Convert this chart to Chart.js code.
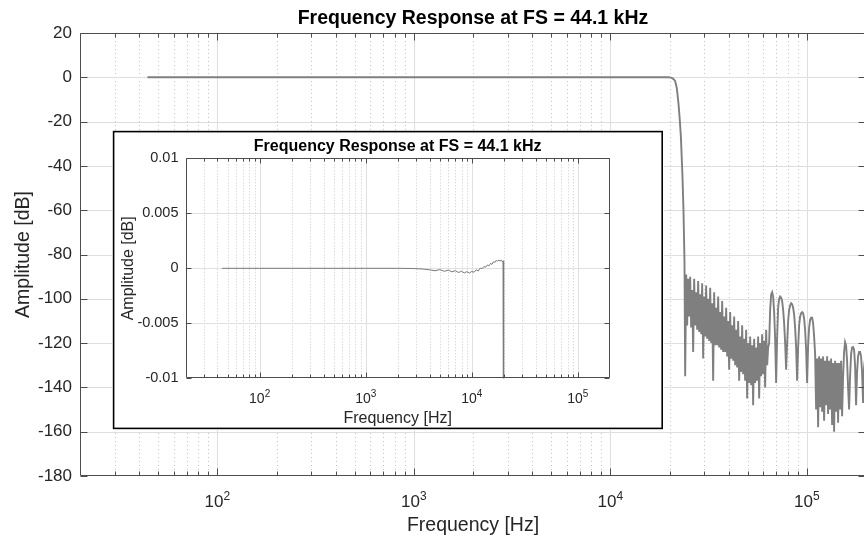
<!DOCTYPE html>
<html><head><meta charset="utf-8">
<script src="https://cdn.jsdelivr.net/npm/chart.js@4"></script>
<style>
html,body{margin:0;padding:0;overflow:hidden;background:#fff;width:864px;height:542px}
#wrap{position:relative;width:870px;height:542px}
#main{position:absolute;left:0;top:0}
#inset{position:absolute;left:112px;top:130px}
</style></head><body>
<div id="wrap"><canvas id="main" width="870" height="542"></canvas><canvas id="inset" width="552" height="300"></canvas></div>
<script>
// ---- data ----
const titleText = 'Frequency Response at FS = 44.1 kHz';
const xAxisLabel = 'Frequency [Hz]';
const yAxisLabel = 'Amplitude [dB]';

// passband (Hz, dB)
const freqPass = [44.1,60,100,200,500,1000,2000,2800,3400,4000,4500,5000,5500,6000,6500,7000,7500,8000,8500,9000,9500,10000,10500,11000,11500,12000,12500,13000,13500,14000,14500,15000,15500,16000,16500,17000,17500,18000,18500,19000,19400,19700,19900];
const ampPass = [0,0,0,0,0,0,0,-0.00002,-0.00006,-0.00014,-0.00022,-0.00012,-0.00027,-0.00017,-0.00032,-0.00022,-0.00038,-0.00027,-0.00042,-0.00030,-0.00044,-0.00028,-0.00036,-0.00014,-0.00024,0.00002,-0.00004,0.00016,0.00010,0.00030,0.00022,0.00044,0.00036,0.00060,0.00054,0.00072,0.00064,0.00076,0.00066,0.00074,0.00060,0.00068,0.00045];

// transition band
const freqTrans = [20050,20300,20640,21000,21380,21800,22230,22550,22860,23290,23560,23840,24030];
const ampTrans = [-0.03,-0.12,-0.4,-0.9,-1.8,-5,-12,-19,-27,-45,-60,-83,-135];

// stopband, first noisy region
const freqStop1 = [24320,24600,24890,25180,25480,25780,26090,26390,26700,27020,27340,27660,27980,28310,28650,28990,29330,29670,30020,30370,30730,31090,31460,31830,32210,32590,32970,33360,33750,34150,34550,34960,35370,35790,36210,36640,37070,37510,37950,38400,38850,39310,39770,40240,40710,41190,41680,42170,42660,43170,43680,44190,44710,45240,45770,46310,46860,47410,47970,48530,49100,49680,50270,50860,51460,52070,52680,53300,53930,54570,55210,55860,56510,57180,57850,58530,59230,59930,60630,61350,62070,62800,63540];
const ampStop1 = [-89,-112,-91,-108,-90,-113,-96,-124,-91,-112,-97,-114,-92,-115,-98,-116,-93,-127,-99,-117,-94,-118,-100,-119,-95,-120,-102,-137,-97,-121,-104,-121,-99,-122,-106,-123,-101,-124,-108,-124,-104,-126,-110,-132,-106,-127,-112,-128,-108,-130,-114,-131,-110,-137,-117,-133,-112,-134,-118,-137,-114,-145,-120,-138,-117,-139,-121,-148,-118,-138,-122,-137,-117,-145,-120,-135,-116,-134,-119,-140,-114,-130,-122];

// stopband lobes
const freqStop2 = [64290,65050,65820,66590,67380,68170,68970,69780,70610,71440,72280,73130,73990,74860,75740,76640,77540,78450,79380,80310,81260,82210,83180,84160,85150,86150,87160,88190,89230,90280,91340,92420,93510,94610,95720,96850,97990,99150,100310,101500,102700,103910,105130,106370,107620,108890,110170];
const ampStop2 = [-120,-105,-98,-97,-99,-106,-118,-138,-117,-104,-100,-99,-99.5,-101,-105,-111,-120,-132,-120,-110,-105,-103,-102,-102.5,-104,-107,-113,-122,-137,-122,-112,-108,-106.5,-106,-106.5,-109,-114,-123,-138,-121,-113,-109.5,-108.5,-108.5,-111,-117,-125];

// stopband, second noisy region
const freqStop3 = [111470,112780,114110,115450,116810,118190,119580,120990,122410,123850,125310,126780,128280,129790,131320,132860,134430,136010,137620,139240,140880,142540,144220,145920,147630,149370,151130,152910];
const ampStop3 = [-150,-127,-158,-126,-149,-127,-151,-126,-155,-128,-148,-126,-152,-128,-150,-127,-157,-129,-160,-128,-151,-129,-156,-129,-150,-128,-153,-135];

// stopband, last lobes
const freqStop4 = [154710,156530,158380,160250,162130,164040,165970,167930,169900,171900,173930,175980,178050,180150,182270,184420,186590,188790,191010,193260,195530,197830,200000];
const ampStop4 = [-124,-119.5,-121,-128,-140,-150,-135,-125,-122,-121.8,-123,-130,-148,-133,-126,-124,-124,-126,-133,-147,-131,-127,-126];

// axes
const xMin = 20, xMax = 200000;
const xMajorTicks = [100,1000,10000,100000];
const xTickBase = '10';
const xTickExp = ['2','3','4','5'];
const xMinorTicks = [30,40,50,60,70,80,90,200,300,400,500,600,700,800,900,2000,3000,4000,5000,6000,7000,8000,9000,20000,30000,40000,50000,60000,70000,80000,90000];
const mainYTicks = [20,0,-20,-40,-60,-80,-100,-120,-140,-160,-180];
const mainYLabels = ['20','0','-20','-40','-60','-80','-100','-120','-140','-160','-180'];
const insetYTicks = [0.01,0.005,0,-0.005,-0.01];
const insetYLabels = ['0.01','0.005','0','-0.005','-0.01'];

// ---- build ----
const freqAll = [].concat(freqPass, freqTrans, freqStop1, freqStop2, freqStop3, freqStop4);
const ampAll = [].concat(ampPass, ampTrans, ampStop1, ampStop2, ampStop3, ampStop4);
const points = freqAll.map((f,i)=>({x:f, y:ampAll[i]}));

const FONT = '"Liberation Sans", Arial, Helvetica, sans-serif';
const TXT = '#262626';

function decoPlugin(cfg){
  return {
    id: 'deco',
    beforeDraw(chart){
      if(!cfg.inset) return;
      const c = chart.ctx; c.save();
      c.fillStyle = '#fff'; c.fillRect(0,0,chart.width,chart.height);
      c.strokeStyle = '#000'; c.lineWidth = 1.6;
      c.strokeRect(1.6,1.6,chart.width-3.4,chart.height-3.2);
      c.restore();
    },
    beforeDatasetsDraw(chart){
      const c = chart.ctx, a = chart.chartArea, x = chart.scales.x, y = chart.scales.y;
      c.save(); c.lineWidth = 1;
      c.strokeStyle = cfg.minorColor; c.setLineDash(cfg.dash);
      for(const v of xMinorTicks){
        const p = Math.round(x.getPixelForValue(v)) + 0.5;
        c.beginPath(); c.moveTo(p,a.top); c.lineTo(p,a.bottom); c.stroke();
      }
      c.setLineDash([]); c.strokeStyle = cfg.gridColor;
      for(const v of xMajorTicks){
        const p = Math.round(x.getPixelForValue(v)) + 0.5;
        c.beginPath(); c.moveTo(p,a.top); c.lineTo(p,a.bottom); c.stroke();
      }
      for(const v of cfg.yTicks){
        const p = Math.round(y.getPixelForValue(v)) + 0.5;
        if(p < a.top+1 || p > a.bottom-1) continue;
        c.beginPath(); c.moveTo(a.left,p); c.lineTo(a.right,p); c.stroke();
      }
      c.restore();
    },
    afterDatasetsDraw(chart){
      const c = chart.ctx, a = chart.chartArea, x = chart.scales.x, y = chart.scales.y;
      c.save(); c.strokeStyle = cfg.axisColor; c.lineWidth = 1;
      const L = Math.round(a.left)+0.5, R = Math.round(a.right)-0.5, T = Math.round(a.top)+0.5, B = Math.round(a.bottom)-0.5;
      c.beginPath(); c.moveTo(L,T); c.lineTo(R,T); c.lineTo(R,B); c.lineTo(L,B); c.closePath(); c.stroke();
      c.beginPath();
      for(const v of xMajorTicks){
        const p = Math.round(x.getPixelForValue(v))+0.5;
        c.moveTo(p,B); c.lineTo(p,B-cfg.majorLen); c.moveTo(p,T); c.lineTo(p,T+cfg.majorLen);
      }
      for(const v of xMinorTicks){
        const p = Math.round(x.getPixelForValue(v))+0.5;
        c.moveTo(p,B); c.lineTo(p,B-cfg.minorLen); c.moveTo(p,T); c.lineTo(p,T+cfg.minorLen);
      }
      for(const v of cfg.yTicks){
        const p = Math.round(y.getPixelForValue(v))+0.5;
        c.moveTo(L,p); c.lineTo(L+cfg.majorLen,p); c.moveTo(R,p); c.lineTo(R-cfg.majorLen,p);
      }
      c.stroke(); c.restore();
    },
    afterDraw(chart){
      const c = chart.ctx, a = chart.chartArea, x = chart.scales.x;
      c.save();
      c.fillStyle = TXT; c.textBaseline = 'alphabetic'; c.textAlign = 'left';
      xMajorTicks.forEach((v,i)=>{
        const p = x.getPixelForValue(v);
        c.font = cfg.baseSize+'px '+FONT; const wb = c.measureText(xTickBase).width;
        c.font = cfg.expSize+'px '+FONT; const we = c.measureText(xTickExp[i]).width;
        const s = p - (wb+we)/2;
        c.font = cfg.baseSize+'px '+FONT; c.fillText(xTickBase, s, cfg.xTickBaseline);
        c.font = cfg.expSize+'px '+FONT; c.fillText(xTickExp[i], s+wb, cfg.xTickBaseline-cfg.expRaise);
      });
      const cx = (a.left+a.right)/2, cy = (a.top+a.bottom)/2;
      c.textAlign = 'center';
      c.fillStyle = '#000'; c.font = 'bold '+cfg.titleSize+'px '+FONT;
      c.fillText(titleText, cx, cfg.titleBaseline);
      c.fillStyle = TXT; c.font = cfg.labelSize+'px '+FONT;
      c.fillText(xAxisLabel, cx, cfg.xLabelBaseline);
      c.translate(cfg.yLabelBaselineX, cy); c.rotate(-Math.PI/2);
      c.fillText(yAxisLabel, 0, 0);
      c.restore();
    }
  };
}

function makeChart(id, cfg){
  return new Chart(document.getElementById(id), {
    type: 'line',
    data: { datasets: [{ data: points, borderColor: cfg.lineColor, borderWidth: cfg.lineWidth, pointRadius: 0, tension: 0, fill: false }] },
    options: {
      responsive: false, animation: false, events: [],
      layout: { padding: cfg.padding },
      plugins: { legend: {display:false}, tooltip: {enabled:false}, title:{display:false} },
      scales: {
        x: { type: 'logarithmic', min: xMin, max: xMax,
             grid: {display:false}, border: {display:false}, ticks: {display:false},
             afterFit: s => { s.height = cfg.xAxisHeight; } },
        y: { type: 'linear', min: cfg.yMin, max: cfg.yMax,
             grid: {display:false, drawTicks:false}, border: {display:false},
             afterBuildTicks: s => { s.ticks = cfg.yTicks.map(v=>({value:v})); },
             ticks: { padding: cfg.yTickPad, color: TXT, font: {family: FONT, size: cfg.yTickSize},
                      callback: (v, i) => cfg.yLabels[i] },
             afterFit: s => { s.width = cfg.yAxisWidth; } }
      }
    },
    plugins: [decoPlugin(cfg)]
  });
}

makeChart('main', {
  inset:false, yMin:-180, yMax:20, yTicks: mainYTicks, yLabels: mainYLabels,
  padding: {top:33, right:4, left:0, bottom:0}, xAxisHeight: 66, yAxisWidth: 80,
  yTickPad: 8, yTickSize: 17, lineColor:'#7f7f7f', lineWidth:1.9,
  gridColor:'#dedede', minorColor:'#c4c4c4', dash:[1,3], axisColor:'#4d4d4d',
  majorLen:7, minorLen:4,
  baseSize:17, expSize:12, xTickBaseline:507, expRaise:7,
  titleSize:19.5, titleBaseline:23.5, labelSize:19.5, xLabelBaseline:531, yLabelBaselineX:29
});

makeChart('inset', {
  inset:true, yMin:-0.01, yMax:0.01, yTicks: insetYTicks, yLabels: insetYLabels,
  padding: {top:28.3, right:54.2, left:0, bottom:0}, xAxisHeight: 51.7, yAxisWidth: 73.5,
  yTickPad: 7, yTickSize: 14.5, lineColor:'#7a7a7a', lineWidth:1,
  gridColor:'#e0e0e0', minorColor:'#cccccc', dash:[1,2], axisColor:'#4d4d4d',
  majorLen:5, minorLen:3,
  baseSize:14, expSize:10, xTickBaseline:272.5, expRaise:6,
  titleSize:16, titleBaseline:20.5, labelSize:16, xLabelBaseline:292.5, yLabelBaselineX:20.5
});
</script>
</body></html>
